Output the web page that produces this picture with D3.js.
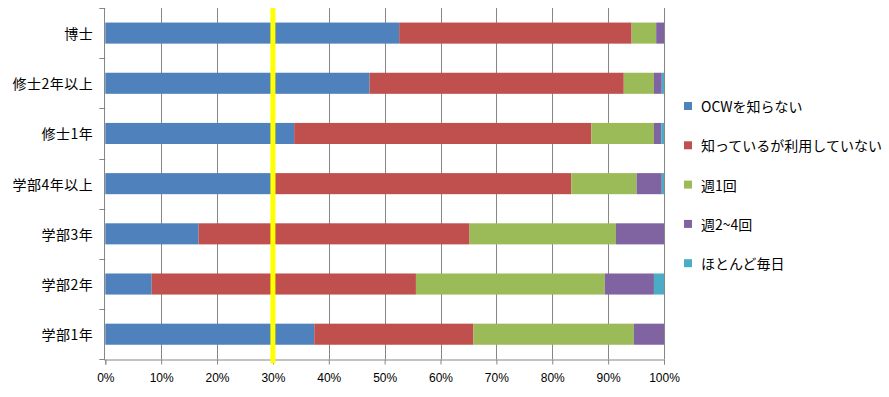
<!DOCTYPE html>
<html><head><meta charset="utf-8">
<script src="https://cdnjs.cloudflare.com/ajax/libs/d3/7.8.5/d3.min.js"></script>
<style>
html,body{margin:0;padding:0;background:#fff;}
text{font-family:"Noto Sans CJK JP","Noto Sans",sans-serif;fill:#000;}
</style></head>
<body><svg id="c" width="889" height="397"></svg>
<script>
const categories = ["博士","修士2年以上","修士1年","学部4年以上","学部3年","学部2年","学部1年"];
const seriesNames = ["OCWを知らない","知っているが利用していない","週1回","週2~4回","ほとんど毎日"];
const seriesColors = ["#4F81BD","#C0504D","#9BBB59","#8064A2","#4BACC6"];
const ocwUnknown   = [52.6, 47.3, 33.8, 30.4, 16.7,  8.3, 37.4];
const knowNotUsed  = [41.6, 45.5, 53.2, 53.0, 48.5, 47.3, 28.5];
const weekly1      = [ 4.4,  5.4, 11.2, 11.7, 26.2, 33.8, 28.7];
const weekly2to4   = [ 1.4,  1.4,  1.3,  4.5,  8.6,  8.8,  5.4];
const almostDaily  = [ 0.0,  0.4,  0.5,  0.4,  0.0,  1.8,  0.0];
const xTicks = [0,0.1,0.2,0.3,0.4,0.5,0.6,0.7,0.8,0.9,1.0];
const markerValue = 0.30;

(function(){
const seriesValues = [ocwUnknown, knowNotUsed, weekly1, weekly2to4, almostDaily];
const rows = categories.map((c,i)=>{
  const o = {cat:c};
  const tot = seriesValues.reduce((s,a)=>s+a[i],0);
  seriesNames.forEach((n,k)=>o[n]=seriesValues[k][i]/tot);
  return o;
});
const stack = d3.stack().keys(seriesNames)(rows);

const svg = d3.select("#c");
const pLeft=105.3, pRight=664, pTop=8, pBottom=359.3;
const x = d3.scaleLinear().domain([0,1]).range([pLeft,pRight]);
const y = d3.scaleBand().domain(categories).range([pTop,pBottom]).paddingInner(0.58).paddingOuter(0.29);

// gridlines
svg.append("g").selectAll("line").data(xTicks.slice(1)).join("line")
  .attr("x1",d=>Math.round(x(d))+0.5).attr("x2",d=>Math.round(x(d))+0.5)
  .attr("y1",pTop).attr("y2",pBottom)
  .attr("stroke","#868686").attr("stroke-width",1);

// bars
svg.append("g").selectAll("g").data(stack).join("g")
  .attr("fill",(d,i)=>seriesColors[i])
  .selectAll("rect").data(d=>d).join("rect")
  .attr("x",d=>x(d[0])).attr("width",d=>Math.max(0,x(d[1])-x(d[0])))
  .attr("y",d=>y(d.data.cat)).attr("height",y.bandwidth());

// x axis
const xAxis = d3.axisBottom(x).tickValues(xTicks).tickFormat(d3.format(".0%")).tickSize(5).tickPadding(9);
const gx = svg.append("g").attr("transform",`translate(0,${Math.round(pBottom)+0.5})`).call(xAxis);
gx.select(".domain").attr("stroke","#868686");
gx.selectAll(".tick line").attr("stroke","#868686");
gx.selectAll("text").attr("font-size",12).style("font-family","'Liberation Sans','DejaVu Sans',sans-serif");

// y axis with ticks at band boundaries
const gy = svg.append("g");
gy.append("line").attr("x1",Math.round(pLeft)-0.5).attr("x2",Math.round(pLeft)-0.5).attr("y1",pTop).attr("y2",pBottom+1).attr("stroke","#868686");
const bounds = d3.range(categories.length+1).map(i=>pTop+(pBottom-pTop)*i/categories.length);
gy.selectAll("line.t").data(bounds).join("line").attr("class","t")
  .attr("x1",pLeft-6).attr("x2",pLeft).attr("y1",d=>Math.round(d)+0.5).attr("y2",d=>Math.round(d)+0.5)
  .attr("stroke","#868686");
gy.selectAll("text").data(categories).join("text")
  .attr("x",pLeft-12).attr("y",d=>y(d)+y.bandwidth()/2)
  .attr("text-anchor","end").attr("dominant-baseline","central")
  .attr("font-size",14).attr("letter-spacing",0.5).text(d=>d);

// yellow marker line
svg.append("line").attr("x1",x(markerValue)).attr("x2",x(markerValue))
  .attr("y1",pTop).attr("y2",pBottom+4)
  .attr("stroke","#FFFF00").attr("stroke-width",5);

// legend
const lg = svg.append("g").selectAll("g").data(seriesNames).join("g")
  .attr("transform",(d,i)=>`translate(684,${106+i*39.3})`);
lg.append("rect").attr("x",0).attr("y",-4).attr("width",8).attr("height",8).attr("fill",(d,i)=>seriesColors[i]);
lg.append("text").attr("x",17).attr("y",0).attr("dominant-baseline","central").attr("font-size",14).text(d=>d);
})();
</script></body></html>
